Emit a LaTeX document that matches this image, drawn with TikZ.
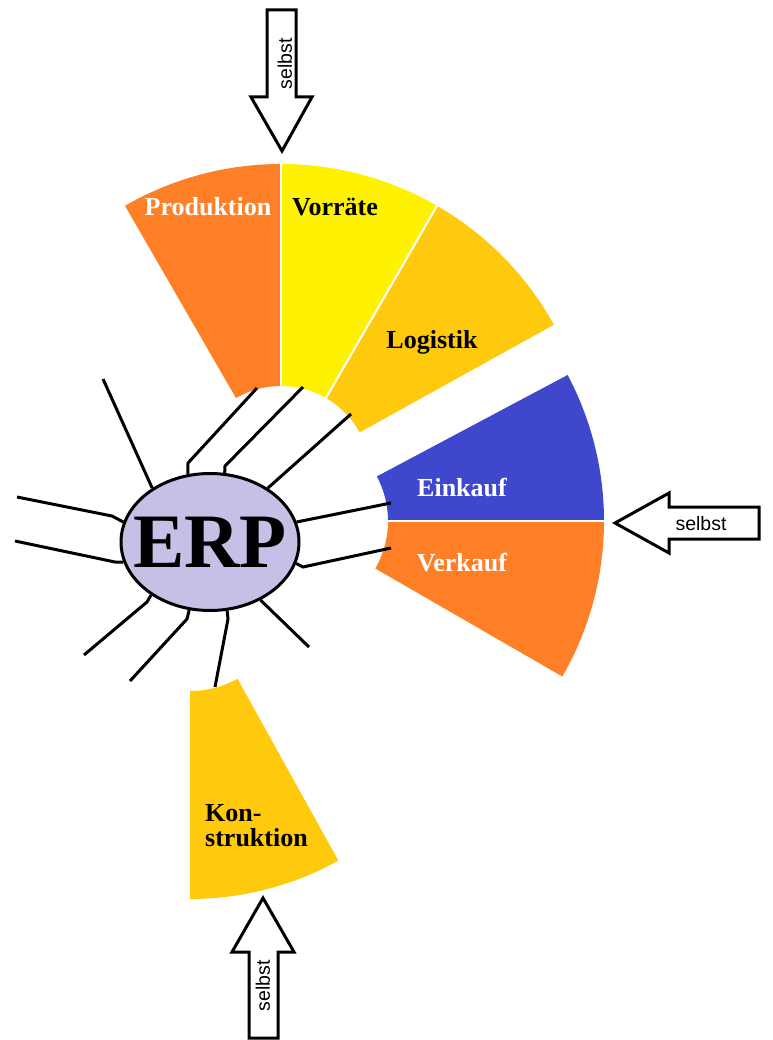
\documentclass[tikz,border=0pt]{standalone}
\usepackage{fontspec}
\setmainfont{Liberation Serif}
\newfontfamily\selbstfont{Liberation Sans}
\usetikzlibrary{calc,shapes.geometric}
\definecolor{pOrange}{HTML}{FF7F27}
\definecolor{pYellow}{HTML}{FFF200}
\definecolor{pGold}{HTML}{FFC90E}
\definecolor{pBlue}{HTML}{3F48CC}
\definecolor{pLav}{HTML}{C8BFE7}
\newcommand\ringsector[6]{%
  \fill[#1] ($(#2)+(#3:#5)$) arc[start angle=#3, end angle=#4, radius=#5]
    -- ($(#2)+(#4:#6)$) arc[start angle=#4, end angle=#3, radius=#6] -- cycle;}
\tikzset{
  lbl/.style={font=\fontsize{26}{30}\selectfont\bfseries, inner sep=0pt, anchor=base},
  selbsttxt/.style={font=\selbstfont\fontsize{19.5}{22}\selectfont, inner sep=0pt},
  bigarrow/.style={draw=black, line width=3pt, fill=white, line join=miter},
  spoke/.style={draw=black, line width=3pt},
  gapline/.style={draw=white, line width=2pt},
}
\begin{document}
\begin{tikzpicture}[x=1pt,y=-1pt]
\useasboundingbox (0,0) rectangle (772,1040);
\coordinate (T) at (281,476);
\coordinate (R) at (293,521);
\coordinate (B) at (190,593);
% sectors
\ringsector{pOrange}{T}{-90}{-120}{90}{312}
\ringsector{pYellow}{T}{-60}{-90}{90}{312}
\ringsector{pGold}{T}{-29}{-60}{90}{312}
\ringsector{pBlue}{R}{0}{-28}{95}{311}
\ringsector{pOrange}{R}{30}{0}{95}{311}
\ringsector{pGold}{B}{90}{61}{98}{306}
\draw[gapline] ($(T)+(-90:88)$) -- ($(T)+(-90:314)$);
\draw[gapline] ($(T)+(-60:88)$) -- ($(T)+(-60:314)$);
\draw[gapline] ($(R)+(0:93)$) -- ($(R)+(0:313)$);
% labels
\node[lbl, text=white] (prod) at (208,216) {Produktion};
\node[lbl] (vorr) at (335,216) {Vorräte};
\node[lbl] (logi) at (432,348) {Logistik};
\node[lbl, text=white] (eink) at (462,496) {Einkauf};
\node[lbl, text=white] (verk) at (462,571) {Verkauf};
\node[lbl, anchor=base west] (kon1) at (205,821) {Kon-};
\node[lbl, anchor=base west] (kon2) at (205,846) {struktion};
% ERP ellipse
\node[ellipse, draw=black, line width=3pt, fill=pLav, minimum width=178pt, minimum height=137pt, inner sep=0pt] (erp) at (210,542) {};
\node[font=\fontsize{77}{80}\selectfont\bfseries, inner sep=0pt, anchor=base] (erptxt) at (210,567) {ERP};
% spokes
\coordinate (s1) at (103,379);
\coordinate (s2) at (17,497);   \coordinate (k2) at (112,516);
\coordinate (s3) at (15,541);   \coordinate (k3) at (115,562);
\coordinate (s4) at (84,655);   \coordinate (k4) at (147,602);
\coordinate (s5) at (130,681);  \coordinate (k5) at (187,619);
\coordinate (s6) at (215,687);  \coordinate (k6) at (228,619);
\coordinate (s7) at (309,647);
\coordinate (s8) at (391,548);  \coordinate (k8) at (303,567);
\coordinate (s9) at (391,503);
\coordinate (s10) at (351,414);
\coordinate (s11) at (303,387); \coordinate (k11) at (225,466);
\coordinate (s12) at (257,388); \coordinate (k12) at (188,463);
\draw[spoke] (s1) -- (erp.137);
\draw[spoke] (s2) -- (k2) -- (erp.167);
\draw[spoke] (s3) -- (k3) -- (erp.193);
\draw[spoke] (s4) -- (k4) -- (erp.222);
\draw[spoke] (s5) -- (k5) -- (erp.253);
\draw[spoke] (s6) -- (k6) -- (erp.284);
\draw[spoke] (s7) -- (erp.311);
\draw[spoke] (s8) -- (k8) -- (erp.346);
\draw[spoke] (s9) -- (erp.13);
\draw[spoke] (s10) -- (erp.43);
\draw[spoke] (s11) -- (k11) -- (erp.78);
\draw[spoke] (s12) -- (k12) -- (erp.108);
% arrows
\draw[bigarrow] (267,10) -- (296,10) -- (296,97) -- (312,97) -- (282,151) -- (251,97) -- (267,97) -- cycle;
\node[selbsttxt, rotate=90] (selTop) at (285,64) {selbst};
\draw[bigarrow] (759,507) -- (669,507) -- (669,493) -- (615,523) -- (669,553) -- (669,539) -- (759,539) -- cycle;
\node[selbsttxt, anchor=base] (selRight) at (701,530) {selbst};
\draw[bigarrow] (249,1038) -- (249,952) -- (232,952) -- (263,898) -- (294,952) -- (278,952) -- (278,1038) -- cycle;
\node[selbsttxt, rotate=90] (selBot) at (263,986) {selbst};
\end{tikzpicture}
\end{document}
